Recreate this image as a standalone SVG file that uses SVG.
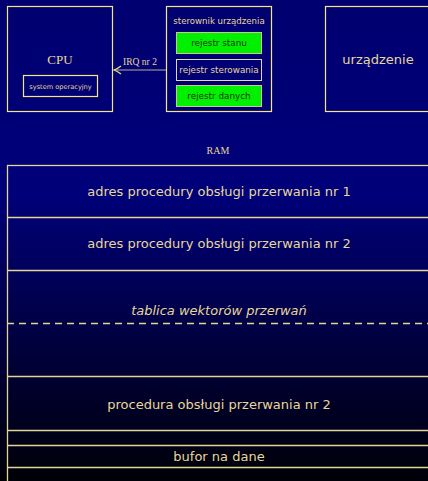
<svg xmlns="http://www.w3.org/2000/svg" width="428" height="481" viewBox="0 0 428 481">
<defs>
<linearGradient id="bg" x1="0" y1="0" x2="0" y2="1">
<stop offset="0" stop-color="#000070"/>
<stop offset="0.4" stop-color="#00007a"/>
<stop offset="1" stop-color="#000008"/>
</linearGradient>
<marker id="ah" markerWidth="10" markerHeight="10" refX="9" refY="5" orient="auto" markerUnits="userSpaceOnUse">
<path d="M2,1 Q6,4 9,5 Q6,6 2,9" fill="none" stroke="#e8dc98" stroke-width="1.3"/>
</marker>
<style>
.box{fill:none;stroke:#f4e680;stroke-width:1.2}
.ram{fill:none;stroke:#e2d694;stroke-width:1.3}
.t{fill:#e6d898;font-family:"DejaVu Sans",sans-serif;text-anchor:middle}
.s{fill:#e6d898;font-family:"Liberation Serif",serif;text-anchor:middle}
.g{fill:#00f000;stroke:#c8c890;stroke-width:1}
.gt{fill:#1a3010;font-family:"DejaVu Sans",sans-serif;text-anchor:middle;font-size:8.8px}
</style>
</defs>
<rect width="428" height="481" fill="url(#bg)"/>
<g id="cpu">
<rect class="box" x="7.5" y="6.5" width="105" height="105"/>
<text class="s" x="60" y="64" font-size="13">CPU</text>
<rect class="box" x="23.5" y="75.5" width="74" height="21"/>
<text class="t" x="60.5" y="88.5" font-size="6.6">system operacyjny</text>
</g>
<g id="sterownik">
<rect class="box" x="166.5" y="6.5" width="105" height="105"/>
<text class="t" x="219" y="24" font-size="8.6">sterownik urządzenia</text>
<rect class="g" x="176.5" y="32.5" width="85" height="21"/>
<text class="gt" x="219" y="46">rejestr stanu</text>
<rect fill="none" stroke="#e0d8b0" stroke-width="1" x="176.5" y="59.5" width="85" height="21"/>
<text class="t" x="219" y="73" font-size="8.8">rejestr sterowania</text>
<rect class="g" x="176.5" y="85.5" width="85" height="21"/>
<text class="gt" x="219" y="99">rejestr danych</text>
</g>
<g id="urzadzenie">
<rect class="box" x="325.5" y="6.5" width="110" height="105"/>
<text class="t" x="378" y="64" font-size="13">urządzenie</text>
</g>
<g id="connectors">
<line x1="166" y1="70" x2="114" y2="70" stroke="#b8b088" stroke-width="1.2" marker-end="url(#ah)"/>
<text class="s" x="140" y="65" font-size="9.5">IRQ nr 2</text>
</g>
<g id="ram">
<text class="s" x="218" y="154" font-size="10">RAM</text>
<rect class="ram" x="7.5" y="165.5" width="430" height="330"/>
<line class="ram" x1="7" y1="217.5" x2="440" y2="217.5"/>
<line class="ram" x1="7" y1="270.5" x2="440" y2="270.5"/>
<line class="ram" x1="7" y1="323.5" x2="440" y2="323.5" stroke-dasharray="7,5"/>
<line class="ram" x1="7" y1="376.5" x2="440" y2="376.5"/>
<line class="ram" x1="7" y1="430.5" x2="440" y2="430.5"/>
<line class="ram" x1="7" y1="445.5" x2="440" y2="445.5"/>
<line class="ram" x1="7" y1="467.5" x2="440" y2="467.5"/>
<text class="t" x="219" y="196" font-size="13">adres procedury obsługi przerwania nr 1</text>
<text class="t" x="219" y="248" font-size="13">adres procedury obsługi przerwania nr 2</text>
<text class="t" x="219" y="315" font-size="13" font-style="italic">tablica wektorów przerwań</text>
<text class="t" x="219" y="409" font-size="13">procedura obsługi przerwania nr 2</text>
<text class="t" x="219" y="461" font-size="13">bufor na dane</text>
</g>
</svg>
